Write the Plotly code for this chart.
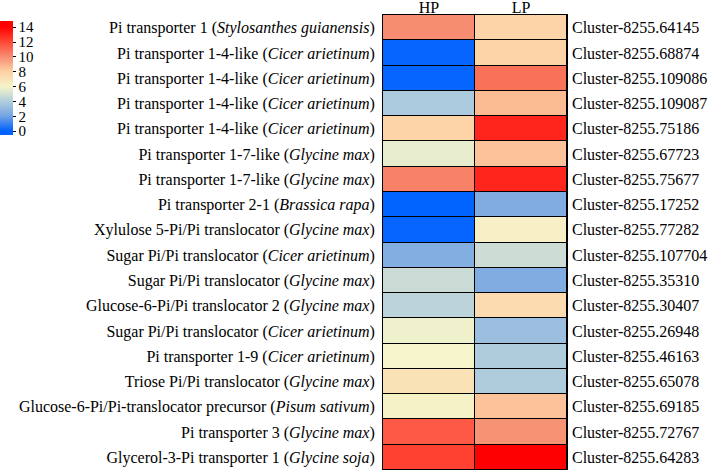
import plotly.graph_objects as go

genes = [
    "Pi transporter 1 (<i>Stylosanthes guianensis</i>)",
    "Pi transporter 1-4-like (<i>Cicer arietinum</i>)",
    "Pi transporter 1-4-like (<i>Cicer arietinum</i>)",
    "Pi transporter 1-4-like (<i>Cicer arietinum</i>)",
    "Pi transporter 1-4-like (<i>Cicer arietinum</i>)",
    "Pi transporter 1-7-like (<i>Glycine max</i>)",
    "Pi transporter 1-7-like (<i>Glycine max</i>)",
    "Pi transporter 2-1 (<i>Brassica rapa</i>)",
    "Xylulose 5-Pi/Pi translocator (<i>Glycine max</i>)",
    "Sugar Pi/Pi translocator (<i>Cicer arietinum</i>)",
    "Sugar Pi/Pi translocator (<i>Glycine max</i>)",
    "Glucose-6-Pi/Pi translocator 2 (<i>Glycine max</i>)",
    "Sugar Pi/Pi translocator (<i>Cicer arietinum</i>)",
    "Pi transporter 1-9 (<i>Cicer arietinum</i>)",
    "Triose Pi/Pi translocator (<i>Glycine max</i>)",
    "Glucose-6-Pi/Pi-translocator precursor (<i>Pisum sativum</i>)",
    "Pi transporter 3 (<i>Glycine max</i>)",
    "Glycerol-3-Pi transporter 1 (<i>Glycine soja</i>)",
]
clusters = [
    "Cluster-8255.64145", "Cluster-8255.68874", "Cluster-8255.109086",
    "Cluster-8255.109087", "Cluster-8255.75186", "Cluster-8255.67723",
    "Cluster-8255.75677", "Cluster-8255.17252", "Cluster-8255.77282",
    "Cluster-8255.107704", "Cluster-8255.35310", "Cluster-8255.30407",
    "Cluster-8255.26948", "Cluster-8255.46163", "Cluster-8255.65078",
    "Cluster-8255.69185", "Cluster-8255.72767", "Cluster-8255.64283",
]
conditions = ["HP", "LP"]
hp = [10.0, 0.1, 0.1, 3.8, 7.8, 5.6, 10.3, 0.0, 0.1, 2.5, 4.7, 4.3, 5.8, 6.0, 7.0, 6.1, 11.5, 12.2]
lp = [7.8, 7.8, 10.8, 8.6, 13.0, 8.4, 13.0, 2.4, 6.2, 4.8, 2.4, 7.4, 3.3, 3.9, 3.9, 8.4, 9.8, 14.0]
cbar_ticks = [0, 2, 4, 6, 8, 10, 12, 14]

z = [[a, b] for a, b in zip(hp, lp)]
rows = list(range(len(genes)))

zmin, zmax = -0.55, 14.8
stops = [
    (zmin, "rgb(0,98,255)"),
    (0, "rgb(0,98,255)"),
    (2, "rgb(115,163,228)"),
    (4, "rgb(178,206,220)"),
    (6, "rgb(246,244,202)"),
    (8, "rgb(253,208,164)"),
    (10, "rgb(246,140,112)"),
    (12, "rgb(255,72,55)"),
    (14, "rgb(255,0,0)"),
    (zmax, "rgb(255,0,0)"),
]
colorscale = [[(v - zmin) / (zmax - zmin), c] for v, c in stops]

font_family = "Liberation Serif"

fig = go.Figure()
fig.add_trace(go.Heatmap(
    z=z, x=conditions, y=rows,
    zmin=zmin, zmax=zmax, colorscale=colorscale,
    xgap=1, ygap=1,
    colorbar=dict(
        xref="container", x=0, xanchor="left",
        yref="container", y=1 - 22 / 470, yanchor="top",
        len=114, lenmode="pixels", thickness=13,
        outlinewidth=0, ticks="outside", ticklen=3, tickwidth=1,
        tickcolor="black", tickvals=cbar_ticks,
        tickfont=dict(family=font_family, size=15, color="black"),
        ypad=0, xpad=0,
    ),
))
fig.add_trace(go.Scatter(
    x=[conditions[0]] * len(rows), y=rows, yaxis="y2",
    mode="markers", marker=dict(opacity=0), hoverinfo="skip", showlegend=False,
))

fig.update_layout(
    width=712, height=470,
    margin=dict(l=383, r=145, t=15, b=0),
    paper_bgcolor="white", plot_bgcolor="black",
    font=dict(family=font_family, color="black"),
    xaxis=dict(side="top", showgrid=False, zeroline=False, ticks="",
               tickfont=dict(family=font_family, size=16), showline=True,
               linecolor="black", linewidth=1, mirror=True,
               ticklabelstandoff=-5, automargin=False),
    yaxis=dict(tickmode="array", tickvals=rows, ticktext=genes,
               range=[len(rows) - 0.5, -0.5], showgrid=False, zeroline=False,
               ticks="", tickfont=dict(family=font_family, size=16),
               showline=True, linecolor="black", linewidth=1, mirror=True,
               ticklabelstandoff=4, automargin=False),
    yaxis2=dict(overlaying="y", side="right", tickmode="array", tickvals=rows,
                ticktext=clusters, range=[len(rows) - 0.5, -0.5],
                showgrid=False, zeroline=False, ticks="",
                tickfont=dict(family=font_family, size=16),
                ticklabelstandoff=4, automargin=False),
)

fig.write_html(
    "out.html",
    config={"displayModeBar": False},
    post_script="document.body.style.margin='0';document.body.style.overflow='hidden';",
)
